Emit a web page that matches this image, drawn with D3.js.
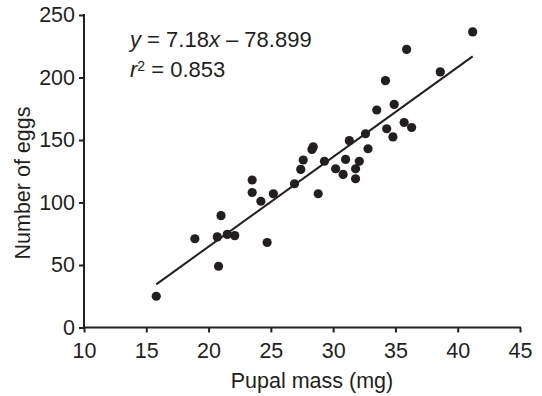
<!DOCTYPE html>
<html>
  <head>
    <meta charset="utf-8">
    <title></title>
  </head>

  <body>
  <style media="screen">
    *{
      box-sizing:border-box;
    }
    body {
      margin:0;
      background:white;
    }
    svg text {
      font-family: "Liberation Sans", Arial, sans-serif;
      fill:#231f20;
    }
    .axis path, .axis line {
      stroke:#231f20;
      stroke-width:2;
    }
    .axis text {
      font-size:21.5px;
    }
  </style>

<svg id="chart1" width="542" height="396"></svg>
    <script src="https://d3js.org/d3.v7.min.js"></script>
    <script type="text/javascript">
    // pupal mass (mg) and number of eggs
    var mass = [15.8, 18.9, 21.0, 20.7, 20.8, 21.5, 22.1, 24.7, 23.5, 23.5, 24.2, 25.2,
                26.9, 27.4, 27.6, 28.3, 28.4, 28.8, 29.3, 30.2, 30.8, 31.0, 31.3, 31.8,
                31.8, 32.1, 32.6, 32.8, 33.5, 34.2, 34.3, 34.8, 34.9, 35.7, 35.9, 36.3,
                38.6, 41.2];
    var eggs = [25, 71, 89.5, 72.5, 49, 74.5, 73.5, 68, 108, 118, 101, 107,
                115, 126.5, 134, 142.5, 144.5, 107, 133, 127, 122.5, 134.5, 149.5, 127,
                119, 133, 155, 143, 174, 197.5, 159, 152.5, 178.5, 164, 222.5, 160,
                204.5, 236.5];
    var xTicks = [10, 15, 20, 25, 30, 35, 40, 45];
    var yTicks = [0, 50, 100, 150, 200, 250];
    var slope = 7.18, intercept = -78.899;

    var ink = '#231f20';
    var svg = d3.select('#chart1');

    var x = d3.scaleLinear().domain([10, 45]).range([84, 520]);
    var y = d3.scaleLinear().domain([0, 250]).range([327.5, 15]);

    svg.append('g')
      .attr('class', 'axis')
      .attr('transform', 'translate(0,' + y(0) + ')')
      .call(d3.axisBottom(x).tickValues(xTicks).tickSize(5).tickSizeOuter(0).tickPadding(10))
      .call(g => g.select('.domain').attr('d', 'M' + (x(10) - 1) + ',0H' + (x(45) + 1)));

    svg.append('g')
      .attr('class', 'axis')
      .attr('transform', 'translate(' + x(10) + ',0)')
      .call(d3.axisLeft(y).tickValues(yTicks).tickSize(5).tickSizeOuter(0).tickPadding(4))
      .call(g => g.select('.domain').attr('d', 'M0,' + (y(0) + 1) + 'V' + (y(250) - 1)));

    svg.selectAll('.axis text').attr('fill', ink).attr('font-family', '"Liberation Sans", Arial, sans-serif');

    // fitted line over the range of the data
    var xmin = d3.min(mass), xmax = d3.max(mass);
    svg.append('line')
      .attr('x1', x(xmin)).attr('y1', y(slope * xmin + intercept))
      .attr('x2', x(xmax)).attr('y2', y(slope * xmax + intercept))
      .attr('stroke', ink)
      .attr('stroke-width', 2);

    svg.selectAll('circle')
      .data(mass)
      .enter().append('circle')
      .attr('cx', d => x(d))
      .attr('cy', (d, i) => y(eggs[i]))
      .attr('r', 4.6)
      .attr('fill', ink);

    // equation
    var eq = svg.append('text').attr('x', 130).attr('y', 47).attr('font-size', 22);
    eq.append('tspan').attr('font-style', 'italic').text('y');
    eq.append('tspan').text(' = 7.18');
    eq.append('tspan').attr('font-style', 'italic').text('x');
    eq.append('tspan').text(' \u2013 78.899');

    var r2 = svg.append('text').attr('x', 130).attr('y', 77).attr('font-size', 22);
    r2.append('tspan').attr('font-style', 'italic').text('r');
    r2.append('tspan').attr('font-size', 14).attr('dy', -6).text('2');
    r2.append('tspan').attr('dy', 6).text(' = 0.853');

    // axis titles
    svg.append('text')
      .attr('x', 312)
      .attr('y', 388)
      .attr('text-anchor', 'middle')
      .attr('font-size', 21.5)
      .text('Pupal mass (mg)');

    svg.append('text')
      .attr('transform', 'translate(30,183) rotate(-90)')
      .attr('text-anchor', 'middle')
      .attr('font-size', 21.5)
      .text('Number of eggs');
    </script>

  </body>
</html>
